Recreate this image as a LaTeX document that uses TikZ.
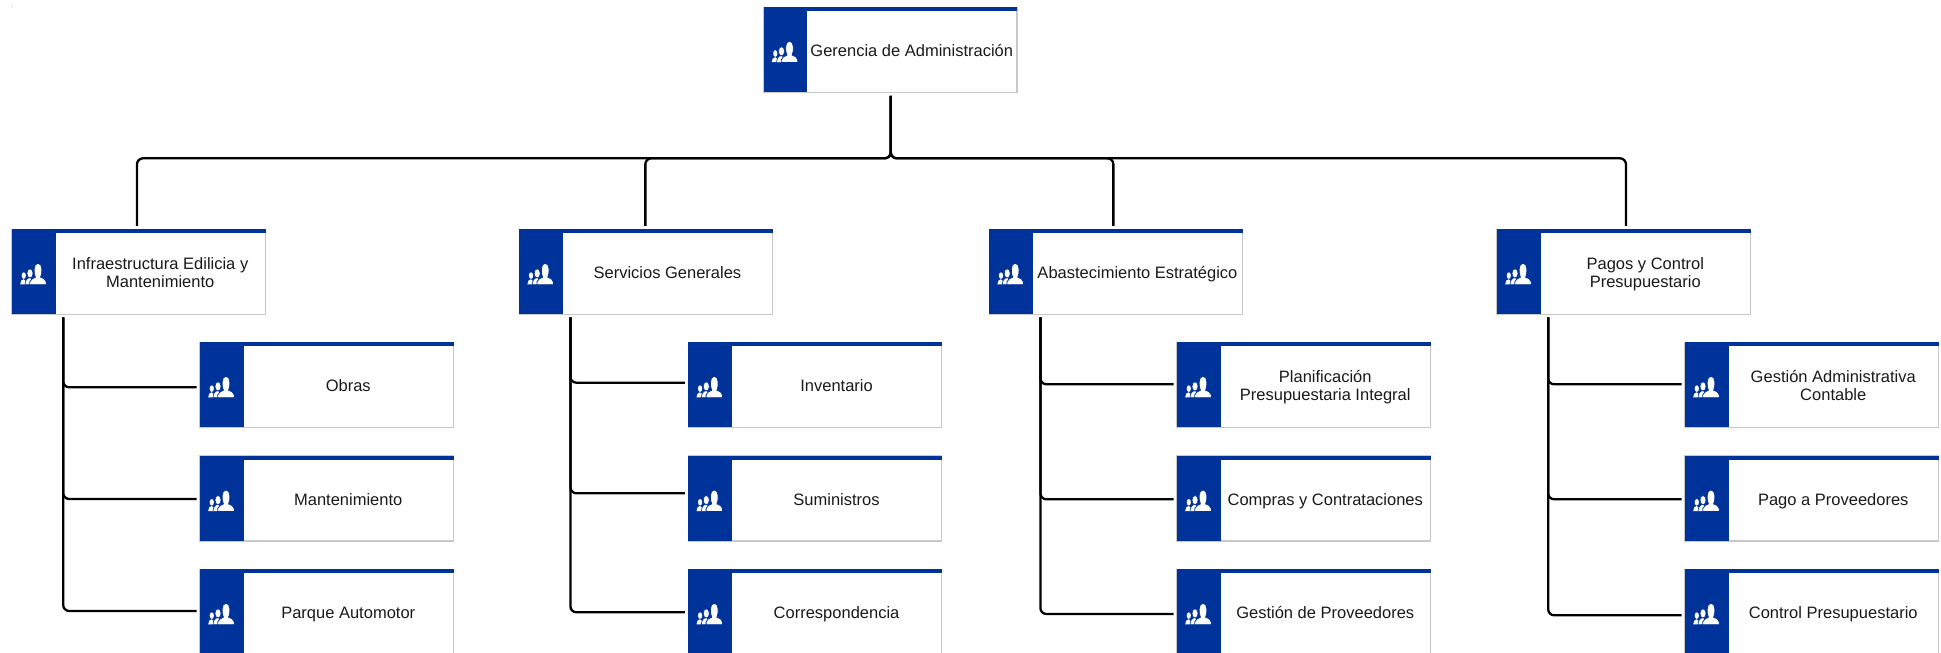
\documentclass[tikz,border=0pt]{standalone}
\usepackage{fontspec}
\setmainfont{Liberation Sans}
\definecolor{navy}{HTML}{003399}
\definecolor{edge}{HTML}{C8C8C8}
\definecolor{ink}{HTML}{1A1A1A}
\newcommand{\lstrut}{\rule[-5.4pt]{0pt}{18pt}}
\tikzset{
  orgbox/.style={draw=edge,line width=1.1pt,fill=white,minimum width=253.5pt,minimum height=85pt,inner sep=0pt,outer sep=0pt,rectangle},
  orgtext/.style={text=ink,font=\fontsize{16.5}{18}\selectfont,align=center,inner sep=0pt},
  conn/.style={draw=black,line width=2.3pt,rounded corners=6pt},
  people/.pic={
    \fill[white] (-9.2,1.8) ellipse (2.1 and 3.3);
    \fill[white] (-12.8,10.5) .. controls (-12.4,7.5) and (-11.5,5.5) .. (-9.5,5.5) .. controls (-8,5.5) and (-7,7) .. (-7,10.5) -- cycle;
    \fill[white,draw=navy,line width=.6pt] (-3,-0.4) ellipse (3 and 4.6);
    \fill[white,draw=navy,line width=.6pt] (-8,10.9) .. controls (-7.6,7) and (-6.5,4) .. (-3,4) .. controls (-1,4) and (1,6) .. (1,10.9) -- cycle;
    \fill[white,draw=navy,line width=.8pt] (-3.2,10.9) -- (-3.2,8) .. controls (-2.6,5.5) and (0,4.5) .. (2.4,3.4) .. controls (0.6,0) and (0,-10.6) .. (5,-10.6) .. controls (10,-10.6) and (9.4,0) .. (7.6,3.4) .. controls (10,4.4) and (13,5.2) .. (13.2,8) -- (13.2,10.9) -- cycle;
  }
}
\newcommand{\orgunit}[4]{%
  \node[orgbox] (#1) at (#2+126.75,#3+42.5) {};
  \fill[navy] (#1.south west) rectangle ([xshift=43.5pt]#1.north west);
  \fill[navy] ([yshift=-3.6pt]#1.north west) rectangle (#1.north east);
  \pic at ([xshift=21pt,yshift=-2pt]#1.west) {people};
  \node[orgtext] (#1-label) at ([xshift=21.5pt,yshift=-3pt]#1.center) {#4};
}
\begin{document}
\begin{tikzpicture}[x=1pt,y=-1pt]
\useasboundingbox (0,0) rectangle (1941,653);
\clip (0,0) rectangle (1941,653);
\node[font=\fontsize{5}{6}\selectfont,text=ink,inner sep=0pt] (dot) at (12,7) {.};
\orgunit{root}{763.5}{7.2}{\lstrut Gerencia de Administración}
\orgunit{a}{12}{229.3}{\lstrut Infraestructura Edilicia y\\\lstrut Mantenimiento}
\orgunit{b}{519.2}{229.3}{\lstrut Servicios Generales}
\orgunit{c}{989.2}{229.3}{\lstrut Abastecimiento Estratégico}
\orgunit{d}{1497}{229.3}{\lstrut Pagos y Control\\\lstrut Presupuestario}
\orgunit{a1}{200}{342.3}{\lstrut Obras}
\orgunit{a2}{200}{456}{\lstrut Mantenimiento}
\orgunit{a3}{200}{569.3}{\lstrut Parque Automotor}
\orgunit{b1}{688.3}{342.3}{\lstrut Inventario}
\orgunit{b2}{688.3}{456}{\lstrut Suministros}
\orgunit{b3}{688.3}{569.3}{\lstrut Correspondencia}
\orgunit{c1}{1177}{342.3}{\lstrut Planificación\\\lstrut Presupuestaria Integral}
\orgunit{c2}{1177}{456}{\lstrut Compras y Contrataciones}
\orgunit{c3}{1177}{569.3}{\lstrut Gestión de Proveedores}
\orgunit{d1}{1685}{342.3}{\lstrut Gestión Administrativa\\\lstrut Contable}
\orgunit{d2}{1685}{456}{\lstrut Pago a Proveedores}
\orgunit{d3}{1685}{569.3}{\lstrut Control Presupuestario}
% root to level one
\coordinate (busy) at (0,158.3);
\foreach \t/\dx in {a/-1.75,b/-0.6,c/-2.6,d/2.2}{
  \draw[conn] ([xshift=.5pt,yshift=-3.7pt]root.south) -- ([xshift=.5pt]root.south |- busy) -| ([xshift=\dx pt,yshift=3.4pt]\t.north);
}
% level one to level two
\foreach \p/\dya/\dyb/\dyc in {a/-2.5/-0.5/0.8,b/2.1/5.2/-0.5,c/0.5/-0.8/-2.2,d/0.5/-0.8/-3.5}{
  \draw[conn] ([xshift=51.2pt,yshift=-3pt]\p.south west) |- ([xshift=-3.5pt,yshift=\dya pt]\p1.west);
  \draw[conn] ([xshift=51.2pt,yshift=-3pt]\p.south west) |- ([xshift=-3.5pt,yshift=\dyb pt]\p2.west);
  \draw[conn] ([xshift=51.2pt,yshift=-3pt]\p.south west) |- ([xshift=-3.5pt,yshift=\dyc pt]\p3.west);
}
\end{tikzpicture}
\end{document}
